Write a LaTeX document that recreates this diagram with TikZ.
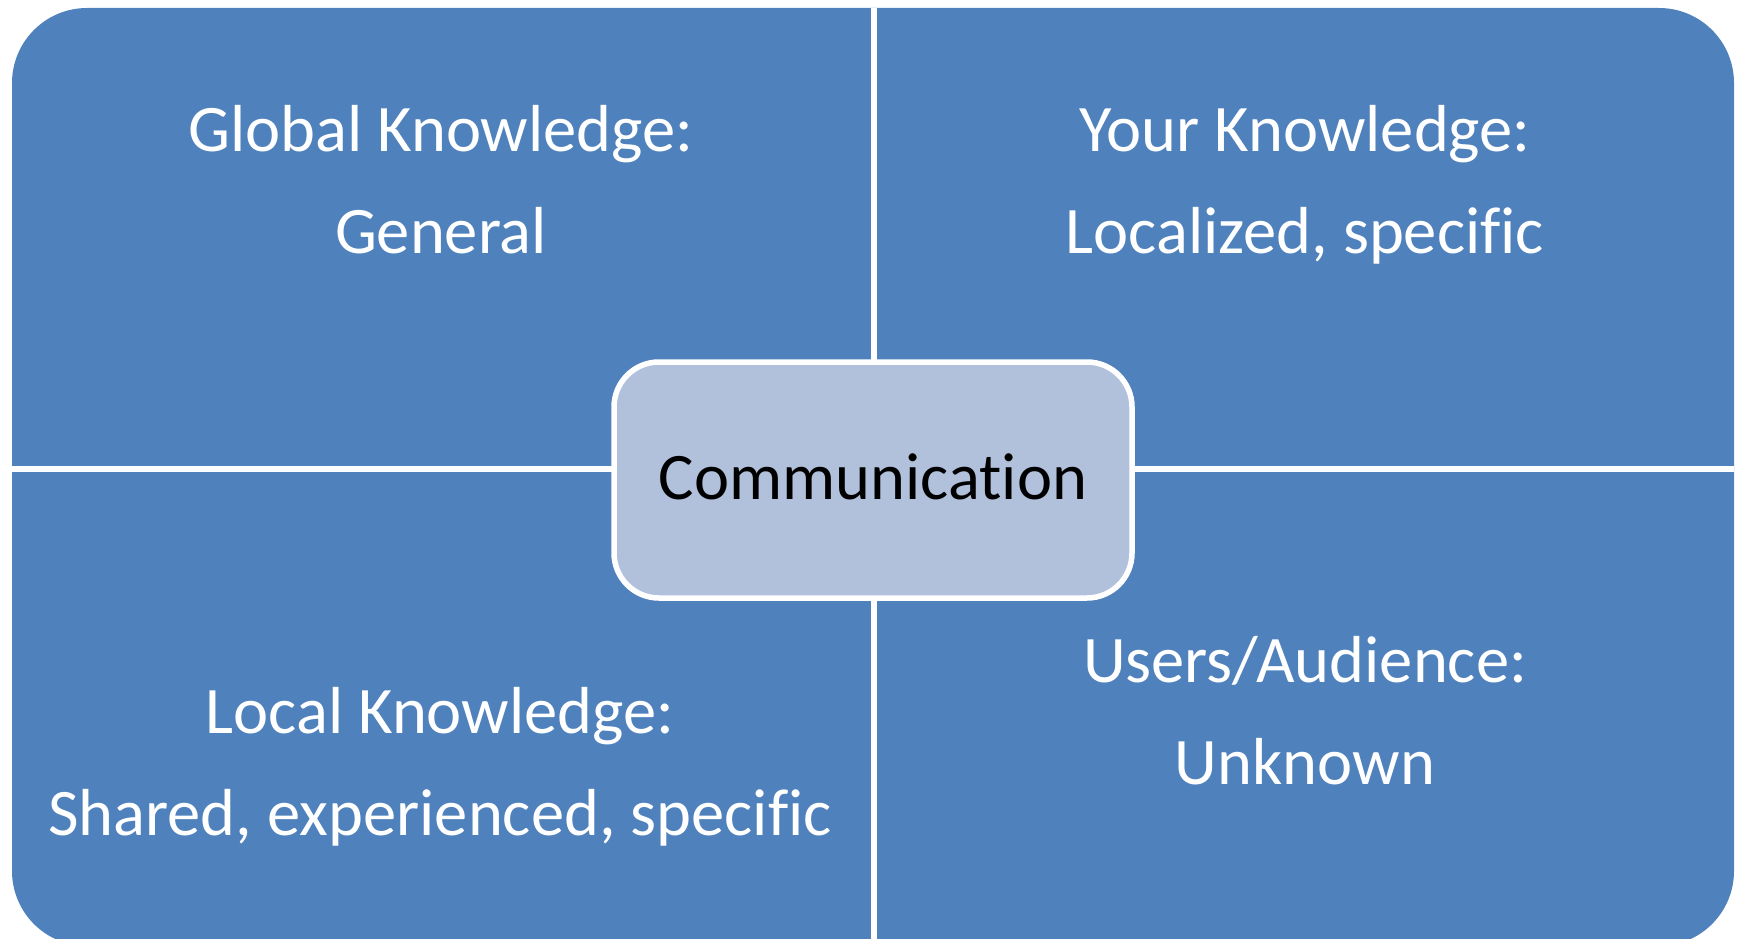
\documentclass[tikz,border=0pt]{standalone}
\usepackage{fontspec}
\setmainfont[Ligatures={NoCommon,NoContextual}]{Carlito}
\usepackage{tikz}
\usepackage{xcolor}
\definecolor{quadblue}{HTML}{4F81BD}
\definecolor{hubblue}{HTML}{B1C1DC}

\begin{document}
\begin{tikzpicture}[x=1pt,y=-1pt]
\tikzset{quadtext/.style={text=white,align=center,anchor=base,inner sep=0pt,
                          font=\fontsize{66.5}{102}\selectfont},
         divider/.style={draw=white,line width=5.5pt},
         hub/.style={draw=white,line width=5.5pt,fill=hubblue,rounded corners=45pt,
                     minimum width=518pt,minimum height=236pt,text height=38pt,
                     text depth=0pt,font=\fontsize{66.5}{80}\selectfont}}
\useasboundingbox (0,0) rectangle (1743,939);
\fill[quadblue,rounded corners=75pt] (12,8) rectangle (1734,946);
\coordinate (top) at (874,8);
\coordinate (bottom) at (874,939);
\coordinate (left) at (12,469);
\coordinate (right) at (1734,469);
\draw[divider] (top) -- (bottom);
\draw[divider] (left) -- (right);
% anchor=base sits on the last line
\node[quadtext] (global) at (441,253) {Global Knowledge:\\General};
\node[quadtext] (yours) at (1305,253) {Your Knowledge:\\Localized, specific};
\node[quadtext] (local) at (440,835) {Local Knowledge:\\Shared, experienced, specific};
\node[quadtext] (users) at (1305,784) {Users/Audience:\\Unknown};
\node[hub] (comm) at (873,480) {Communication};
\end{tikzpicture}
\end{document}
